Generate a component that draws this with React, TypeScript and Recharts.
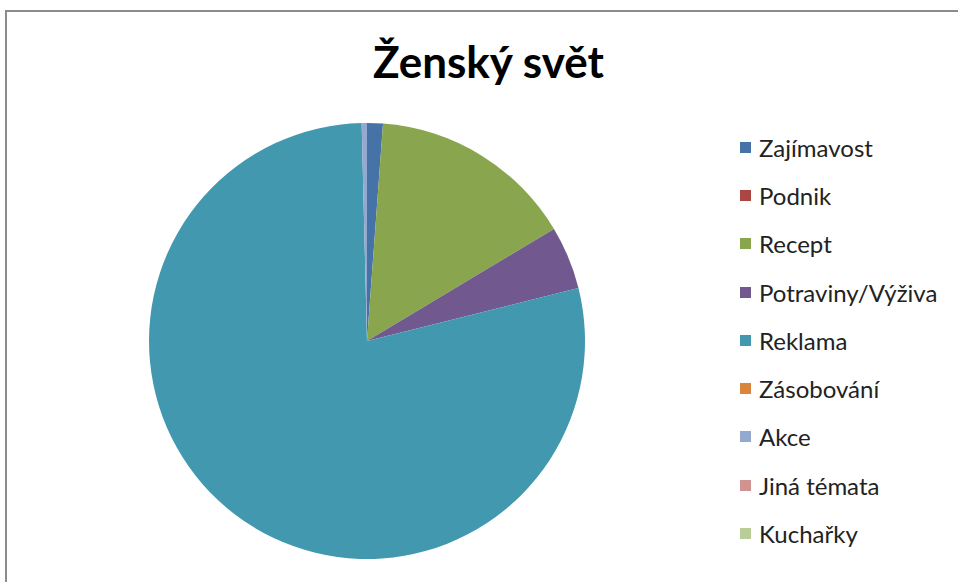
import { PieChart, Pie, Cell } from "recharts";

const CATEGORIES = [
  "Zajímavost",
  "Podnik",
  "Recept",
  "Potraviny/Výživa",
  "Reklama",
  "Zásobování",
  "Akce",
  "Jiná témata",
  "Kuchařky",
];
const VALUES = [3, 0, 39, 12, 201, 0, 1, 0, 0];
const COLORS = [
  "#4572A7",
  "#AA4643",
  "#89A54E",
  "#71588F",
  "#4198AF",
  "#DB843D",
  "#93A9CF",
  "#D19392",
  "#B9CD96",
];

const data = CATEGORIES.map((name, i) => ({ name, value: VALUES[i] }));

const FONT = "Lato, 'Open Sans', sans-serif";

function LegendList() {
  return (
    <div style={{ display: "flex", flexDirection: "column" }}>
      {CATEGORIES.map((c, i) => (
        <div
          key={c}
          style={{ display: "flex", alignItems: "center", gap: 8, height: 48.3 }}
        >
          <div
            style={{ width: 11, height: 11, background: COLORS[i], flexShrink: 0 }}
          />
          <span style={{ fontSize: 24, color: "#222", fontFamily: FONT }}>
            {c}
          </span>
        </div>
      ))}
    </div>
  );
}

export default function App() {
  return (
    <div
      style={{
        position: "absolute",
        left: 0,
        top: 0,
        width: 958,
        height: 582,
        background: "#fff",
        overflow: "hidden",
      }}
    >
      <div
        style={{
          position: "absolute",
          left: 5,
          top: 10,
          width: 970,
          height: 600,
          border: "2px solid #8c8c8c",
          boxSizing: "border-box",
        }}
      />
      <div
        style={{
          position: "absolute",
          left: 373,
          top: 35,
          whiteSpace: "nowrap",
          fontFamily: FONT,
          fontWeight: 700,
          fontSize: 44,
          color: "#000",
        }}
      >
        Ženský svět
      </div>
      <div style={{ position: "absolute", left: 0, top: 0 }}>
        <PieChart
          width={958}
          height={582}
          margin={{ top: 0, right: 0, bottom: 0, left: 0 }}
        >
          <Pie
            data={data}
            dataKey="value"
            nameKey="name"
            cx={367}
            cy={341}
            outerRadius={218}
            startAngle={90}
            endAngle={-270}
            stroke="none"
            isAnimationActive={false}
          >
            {data.map((d, i) => (
              <Cell key={d.name} fill={COLORS[i]} />
            ))}
          </Pie>
        </PieChart>
      </div>
      <div style={{ position: "absolute", left: 740, top: 123 }}>
        <LegendList />
      </div>
    </div>
  );
}
